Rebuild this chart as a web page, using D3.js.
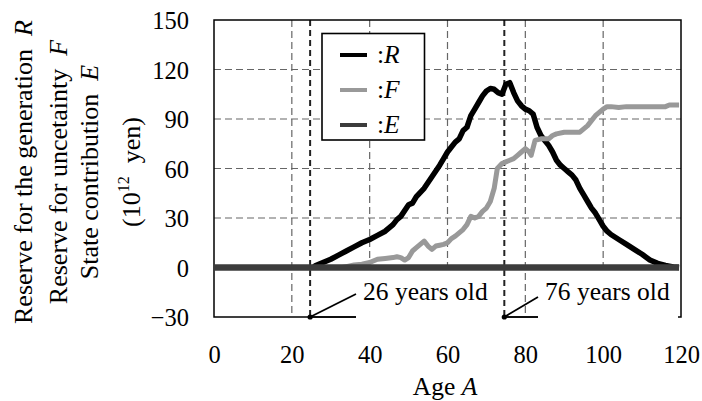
<!DOCTYPE html>
<html><head><meta charset="utf-8">
<script src="https://cdn.jsdelivr.net/npm/d3@7"></script>
<style>
html,body{margin:0;padding:0;background:#fff;}
svg{display:block;}
</style></head>
<body><svg id="c" width="702" height="401"></svg>
<script>
const xTicks = [0,20,40,60,80,100,120];
const yTicks = [-30,0,30,60,90,120,150];
const xGrid = [20,40,60,80,100];
const yGrid = [30,60,90,120];

const rAge = [25.5,26,28,30,32,34,36,38,40,42,44,46,47,48,50,51,52,54,56,58,59,60,61,62,63,64,65,66,67,68,69,70,71,72,73,74,75,76,77,78,79,80,81,82,83,84,85,86,87,88,89,90,91,92,93,94,95,96,97,98,99,100,101,102,104,106,108,110,112,114,116,118,119.5];
const rVal = [0,1,3,5,7.5,10,12.5,15,17,19.5,22,26,29,31,38,39,43,48,55,62,66,70,73,76,78,83,85,92,96,100,104,107,108.5,108,106,105,111,112,106,101,98,96,95,93,85,80,77,74,70,65,62,60,58,56,53,48,44,40,36,33,29,25,22,20,17,14,11,8,4.5,2.5,1.2,0.3,0];

const fAge = [0,33,34,36,38,40,42,44,46,47,48,49,50,51,52,53,54,55,56,57,58,59,60,61,62,63,64,65,66,67,68,69,70,71,72,72.8,74,75,76,77,78,79,80,81,81.5,82.5,84,86,87,88,90,92,94,95,96,97,98,99,100,101,102,104,106,108,110,112,114,116,117,119.5];
const fVal = [0,0,0.5,1.5,2,3,5,5.5,6,6.5,6,4.5,6,10,12,14,16,13,11,13,13.5,14,15,17.5,19,21,23,26,31,30,31,34,36,40,48,60,63,64,65,66,68,70,72,70,68,77,78,78,80,81,82,82,82,84,86,89,92,94,96,97.5,97.5,97,97.5,97.5,97.5,97.5,97.5,97.5,98.5,98.5];

const eAge = [0,119.5];
const eVal = [0,0];

const markAges = [24.7,74.6];
const markLabels = ["26 years old","76 years old"];
const legendKeys = ["R","F","E"];

const FONT = '"Liberation Serif"';
const svg = d3.select("#c");
const FS = 24.5;
const x = d3.scaleLinear().domain([0,120]).range([214,681]);
const y = d3.scaleLinear().domain([-30,150]).range([317,20]);

// grid
const g = svg.append("g");
g.selectAll(".vg").data(xGrid).join("line")
  .attr("x1",d=>x(d)).attr("x2",d=>x(d)).attr("y1",y(150)).attr("y2",y(-30))
  .attr("stroke","#666").attr("stroke-width",1.2).attr("stroke-dasharray","7,4");
g.selectAll(".hg").data(yGrid).join("line")
  .attr("x1",x(0)).attr("x2",x(120)).attr("y1",d=>y(d)).attr("y2",d=>y(d))
  .attr("stroke","#666").attr("stroke-width",1.2).attr("stroke-dasharray","7,4");

// special markers (dashed verticals)
g.selectAll(".mk").data(markAges).join("line")
  .attr("x1",d=>x(d)).attr("x2",d=>x(d)).attr("y1",y(150)).attr("y2",y(-30))
  .attr("stroke","#222").attr("stroke-width",2).attr("stroke-dasharray","6,4");

// frame
svg.append("rect").attr("x",x(0)).attr("y",y(150)).attr("width",x(120)-x(0)).attr("height",y(-30)-y(150))
  .attr("fill","none").attr("stroke","#000").attr("stroke-width",1.5);

// series
const line = d3.line().x(d=>x(d[0])).y(d=>y(d[1])).curve(d3.curveLinear);
const series = [
  {k:"R", pts:d3.zip(rAge,rVal), color:"#000", w:5.5},
  {k:"F", pts:d3.zip(fAge,fVal), color:"#999", w:5},
  {k:"E", pts:d3.zip(eAge,eVal), color:"#3c3c3c", w:6.5}
];
series.forEach(s=>{
  svg.append("path").attr("d",line(s.pts)).attr("fill","none")
    .attr("stroke",s.color).attr("stroke-width",s.w)
    .attr("stroke-linejoin","round").attr("stroke-linecap","butt");
});

// annotation boxes
const boxes = [[356,503],[538,678]];
boxes.forEach(b=>{
  svg.append("rect").attr("x",b[0]).attr("y",273).attr("width",b[1]-b[0]).attr("height",y(-30)-273+1.5).attr("fill","#fff");
});
markAges.forEach((a,i)=>{
  const bx = boxes[i][0];
  svg.append("line").attr("x1",x(a)).attr("y1",y(-30)).attr("x2",bx).attr("y2",y(-30))
    .attr("stroke","#000").attr("stroke-width",1.5);
  svg.append("line").attr("x1",x(a)).attr("y1",y(-30)).attr("x2",bx).attr("y2",i===0?294:297)
    .attr("stroke","#000").attr("stroke-width",1.8);
  svg.append("circle").attr("cx",x(a)).attr("cy",y(-30)).attr("r",2.6).attr("fill","#000");
  svg.append("text").attr("x",bx+7).attr("y",300).attr("font-size",25.5).attr("fill","#000").text(markLabels[i]);
});

// axes
const ax = svg.append("g").attr("transform",`translate(0,${y(-30)})`)
  .call(d3.axisBottom(x).tickValues(xTicks).tickSize(0).tickPadding(29).tickFormat(d3.format("d")));
ax.select(".domain").remove();
ax.selectAll("text").attr("font-size",FS).attr("fill","#000");
const ay = svg.append("g").attr("transform",`translate(${x(0)},0)`)
  .call(d3.axisLeft(y).tickValues(yTicks).tickSize(0).tickPadding(25).tickFormat(d3.format("d")));
ay.select(".domain").remove();
ay.selectAll("text").attr("font-size",FS).attr("fill","#000").attr("dy","0.36em");

// x label
const xl = svg.append("text").attr("x",445).attr("y",395).attr("text-anchor","middle").attr("font-size",25.5);
xl.append("tspan").text("Age ");
xl.append("tspan").attr("font-style","italic").text("A");

// y label
const yl = [
  {x:31.5, parts:[["Reserve for the generation\u00a0\u00a0",""],["R","italic"]]},
  {x:66.5, parts:[["Reserve for uncetainty\u00a0\u00a0",""],["F","italic"]]},
  {x:98,   parts:[["State contribution\u00a0\u00a0",""],["E","italic"]]}
];
yl.forEach(l=>{
  const t = svg.append("text").attr("transform",`translate(${l.x},172) rotate(-90)`)
    .attr("text-anchor","middle").attr("font-size",26);
  l.parts.forEach(p=>t.append("tspan").attr("font-style",p[1]||null).text(p[0]));
});
const u = svg.append("text").attr("transform",`translate(140,172) rotate(-90)`)
  .attr("text-anchor","middle").attr("font-size",26);
u.append("tspan").text("(10");
u.append("tspan").attr("font-size",16).attr("dy",-11).text("12");
u.append("tspan").attr("dy",11).text("\u00a0\u00a0yen)");

// legend
svg.append("rect").attr("x",322).attr("y",33.5).attr("width",102.5).attr("height",106.5)
  .attr("fill","#fff").attr("stroke","#000").attr("stroke-width",1.6);
series.forEach((s,i)=>{
  const cy = 55 + i*35;
  svg.append("line").attr("x1",340).attr("x2",367).attr("y1",cy).attr("y2",cy)
    .attr("stroke",s.color).attr("stroke-width",4);
  const t = svg.append("text").attr("x",377).attr("y",cy+8).attr("font-size",25.5);
  t.append("tspan").text(":");
  t.append("tspan").attr("font-style","italic").text(legendKeys[i]);
});

svg.selectAll("g").attr("font-family",null);
svg.selectAll("text").style("font-family",FONT);
svg.selectAll("tspan").style("font-family",FONT);
</script></body></html>
